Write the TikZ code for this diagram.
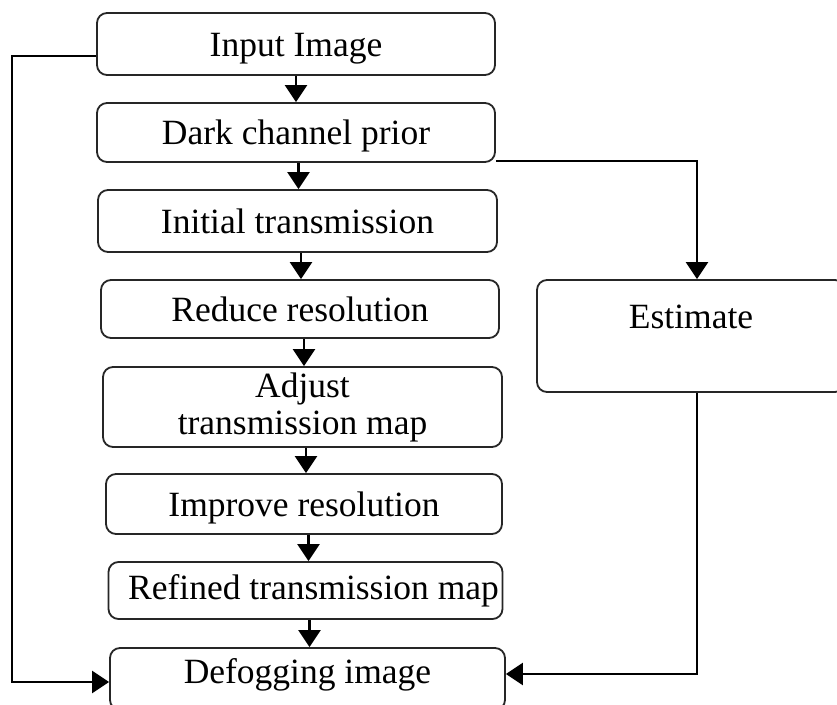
\documentclass[tikz,border=0pt]{standalone}
\usepackage{fontspec}
\setmainfont{Liberation Serif}
\usetikzlibrary{arrows.meta,calc}
\begin{document}
\begin{tikzpicture}[x=1pt,y=-1pt,
  box/.style={draw=black!85,line width=1.8pt,rounded corners=10pt,inner sep=0pt,
    align=center,font=\fontsize{35.5}{37}\selectfont},
  base/.style={text height=24pt,text depth=0pt},
  arr/.style={draw=black,line width=2.4pt,-{Triangle[width=22pt,length=17pt]}}]
\useasboundingbox (0,0) rectangle (837,704);
\node[box,base,minimum width=398pt,minimum height=62pt] (inp) at (296,44) {Input Image};
\node[box,base,minimum width=398pt,minimum height=59pt] (dark) at (296,132.5) {Dark channel prior};
\node[box,base,minimum width=399pt,minimum height=62pt] (init) at (297.5,221) {Initial transmission};
\node[box,base,minimum width=398pt,minimum height=58pt] (red) at (300,309) {Reduce resolution};
\node[box,minimum width=399pt,minimum height=80pt] (adj) at (302.5,407) {Adjust\\transmission map};
\node[box,base,minimum width=396pt,minimum height=60pt] (imp) at (304,504) {Improve resolution};
\node[box,minimum width=394pt,minimum height=57pt] (ref) at (305.5,590.5) {\hspace*{16pt}Refined transmission map};
\node[box,text height=24pt,text depth=16pt,minimum width=395pt,minimum height=62pt] (def) at (307.5,679) {Defogging image};
\node[box,minimum width=308pt,minimum height=112pt,text height=24pt,text depth=40pt] (est) at (691,336) {Estimate};
% vertical chain
\draw[arr] (inp.south) -- (dark.north);
\draw[arr] ([xshift=1pt]init.north |- dark.south) -- ([xshift=1pt]init.north);
\draw[arr] ([xshift=1pt]red.north |- init.south) -- ([xshift=1pt]red.north);
\draw[arr] ([xshift=1.5pt]adj.north |- red.south) -- ([xshift=1.5pt]adj.north);
\draw[arr] ([xshift=2pt]imp.north |- adj.south) -- ([xshift=2pt]imp.north);
\draw[arr] ([xshift=3pt]ref.north |- imp.south) -- ([xshift=3pt]ref.north);
\draw[arr] ([xshift=2pt]def.north |- ref.south) -- ([xshift=2pt]def.north);
% side connectors
\draw[arr] ([yshift=-12pt]inp.west) -- ++(-84,0) |- ([yshift=-3pt]def.west);
\draw[arr] ([yshift=2pt]dark.south east) -| ([xshift=6pt]est.north);
\draw[arr] ([xshift=6pt]est.south) |- ([yshift=5pt]def.east);
\end{tikzpicture}
\end{document}
